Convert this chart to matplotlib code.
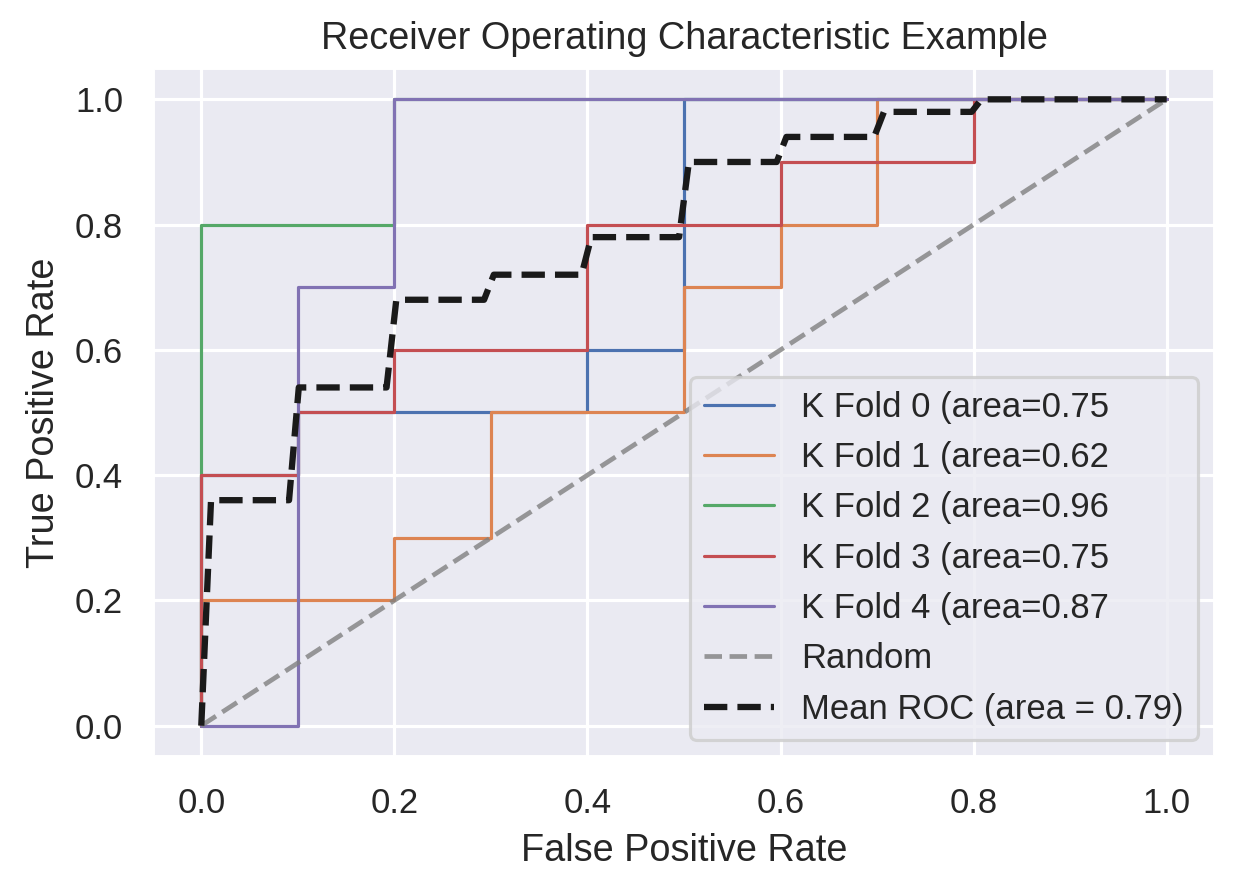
import numpy as np
import matplotlib
matplotlib.use('Agg')
import matplotlib.pyplot as plt
import seaborn as sns

# step corners of each fold's ROC curve
fold_fpr = [
  [0.0, 0.0, 0.1, 0.1, 0.4, 0.4, 0.5, 0.5, 1.0],
  [0.0, 0.0, 0.2, 0.2, 0.3, 0.3, 0.5, 0.5, 0.6, 0.6, 0.7, 0.7, 1.0],
  [0.0, 0.0, 0.2, 0.2, 1.0],
  [0.0, 0.0, 0.1, 0.1, 0.2, 0.2, 0.4, 0.4, 0.6, 0.6, 0.8, 0.8, 1.0],
  [0.0, 0.1, 0.1, 0.2, 0.2, 1.0],
]
fold_tpr = [
  [0.0, 0.4, 0.4, 0.5, 0.5, 0.6, 0.6, 1.0, 1.0],
  [0.0, 0.2, 0.2, 0.3, 0.3, 0.5, 0.5, 0.7, 0.7, 0.8, 0.8, 1.0, 1.0],
  [0.0, 0.8, 0.8, 1.0, 1.0],
  [0.0, 0.4, 0.4, 0.5, 0.5, 0.6, 0.6, 0.8, 0.8, 0.9, 0.9, 1.0, 1.0],
  [0.0, 0.0, 0.7, 0.7, 1.0, 1.0],
]
fold_auc = ['0.75', '0.62', '0.96', '0.75', '0.87']

mean_fpr = [0.0, 0.0101, 0.0909, 0.1010, 0.1919, 0.2020, 0.2929, 0.3030, 0.3939,
            0.4040, 0.4949, 0.5051, 0.5960, 0.6061, 0.6970, 0.7071, 0.7980, 0.8081, 1.0]
mean_tpr = [0.0, 0.36, 0.36, 0.54, 0.54, 0.68, 0.68, 0.72, 0.72,
            0.78, 0.78, 0.90, 0.90, 0.94, 0.94, 0.98, 0.98, 1.0, 1.0]
mean_auc = '0.79'


def main():
  sns.set_theme(style='darkgrid')
  plt.rcParams['font.family'] = ['Liberation Sans', 'DejaVu Sans']

  dpi = 227
  fig = plt.figure(figsize=(1246 / dpi, 880 / dpi), dpi=dpi)
  ax = fig.add_axes([0.1228, 0.1398, 0.8523, 0.7829])

  for i in range(len(fold_fpr)):
    ax.plot(fold_fpr[i], fold_tpr[i], lw=1,
            label='K Fold {i} (area={a}'.format(i=i, a=fold_auc[i]))

  ax.plot([0, 1], [0, 1], linestyle='--', lw=1.5, color='gray', alpha=0.8, label='Random')
  # seaborn maps 'k' to a 0.1 grey
  ax.plot(mean_fpr, mean_tpr, 'k--', lw=2,
          label='Mean ROC (area = {a})'.format(a=mean_auc))

  ax.set_xlim(-0.05, 1.05)
  ax.set_ylim(-0.05, 1.05)
  ax.set_xlabel('False Positive Rate')
  ax.set_ylabel('True Positive Rate')
  ax.set_title('Receiver Operating Characteristic Example')
  ax.legend(loc='lower right')

  fig.savefig('out.png', dpi=dpi)


if __name__ == "__main__":
  main()
